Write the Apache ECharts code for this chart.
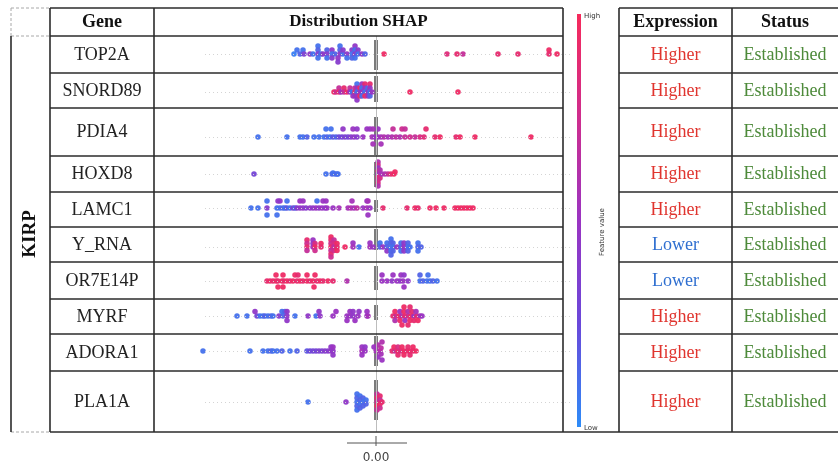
<!DOCTYPE html>
<html>
<head>
<meta charset="utf-8">
<script src="https://cdn.jsdelivr.net/npm/echarts@6/dist/echarts.min.js"></script>
<style>html,body{margin:0;padding:0;background:#fff}#c{width:838px;height:466px}</style>
</head>
<body>
<div id="c"></div>
<script>
// ---------------- DATA ----------------
const genes = ['TOP2A','SNORD89','PDIA4','HOXD8','LAMC1','Y_RNA','OR7E14P','MYRF','ADORA1','PLA1A'];
const expression = ['Higher','Higher','Higher','Higher','Higher','Lower','Lower','Higher','Higher','Higher'];
const status = ['Established','Established','Established','Established','Established','Established','Established','Established','Established','Established'];
const cancerType = 'KIRP';
const xTickValues = [0];
// beeswarm row centre for each gene (y-axis units)
const rowCenters = [18, 56, 101, 138, 172, 211, 245, 280, 315, 366];
// thick grey band at SHAP = 0 for each gene: [top, bottom] (y-axis units)
const zeroBands = [[4,34],[40,66],[81,119],[126,151],[164,176],[193,214],[230,254],[269,284],[300,330],[344,384]];
// points: [SHAP value, vertical swarm offset, feature value 0..1]
const TOP2A = [
[-0.82,0,0.05],[-0.79,-4,0.1],[-0.76,0,0.15],[-0.73,-4,0.1],[-0.72,0,0.35],
[-0.66,0,0.45],[-0.63,0,0.1],[-0.58,-8,0.1],[-0.58,-4,0.15],[-0.58,0,0.4],[-0.58,4,0.1],
[-0.55,0,0.1],[-0.53,0,0.45],[-0.49,-4,0.15],[-0.49,0,0.4],[-0.49,4,0.1],
[-0.44,-4,0.45],[-0.44,0,0.1],[-0.44,4,0.4],[-0.41,0,0.15],[-0.38,4,0.45],[-0.38,8,0.4],
[-0.36,-8,0.1],[-0.36,-4,0.15],[-0.36,0,0.45],[-0.33,0,0.1],[-0.33,-4,0.4],
[-0.29,0,0.45],[-0.29,4,0.1],[-0.24,-4,0.4],[-0.24,0,0.1],[-0.24,4,0.15],
[-0.21,-8,0.45],[-0.21,-4,0.1],[-0.21,0,0.4],[-0.21,4,0.1],[-0.18,-4,0.4],[-0.18,0,0.1],
[-0.14,0,0.45],[-0.11,0,0.15],
[0.08,0,0.95],[0.71,0,0.85],[0.81,0,0.9],[0.87,0,0.7],[1.22,0,0.9],[1.42,0,0.9],[1.73,-4,0.95],[1.73,0,0.9],[1.81,0,0.95]
];
const SNORD89 = [
[-0.42,0,0.95],[-0.40,0,0.75],[-0.37,-4,0.7],[-0.37,0,0.95],[-0.35,0,0.5],[-0.32,-4,0.9],[-0.32,0,0.7],
[-0.29,0,0.95],[-0.26,-4,0.7],[-0.26,0,0.5],[-0.24,0,0.1],[-0.23,4,0.5],[-0.21,-4,0.7],[-0.21,0,0.95],
[-0.21,4,0.5],[-0.19,-8,0.1],[-0.19,-4,0.5],[-0.19,0,0.1],[-0.19,4,0.5],[-0.19,8,0.45],[-0.16,-4,0.95],
[-0.16,0,0.5],[-0.16,4,0.95],[-0.14,-8,0.5],[-0.14,-4,0.1],[-0.14,0,0.5],[-0.14,4,0.1],[-0.11,-8,0.9],
[-0.11,-4,0.5],[-0.11,0,0.1],[-0.11,4,0.95],[-0.08,-4,0.1],[-0.08,0,0.5],[-0.08,4,0.5],[-0.06,-8,0.9],
[-0.06,-4,0.5],[-0.06,0,0.1],[-0.06,4,0.15],[-0.04,0,0.5],
[0.34,0,0.95],[0.82,0,0.95]
];
const PDIA4 = [
[-1.18,0,0.1],[-0.89,0,0.1],[-0.76,0,0.1],[-0.73,0,0.1],[-0.69,0,0.15],[-0.62,0,0.1],[-0.57,0,0.1],
[-0.52,0,0.1],[-0.49,0,0.15],[-0.46,0,0.1],[-0.43,0,0.2],[-0.40,0,0.15],[-0.37,0,0.25],[-0.34,0,0.3],
[-0.31,0,0.35],[-0.28,0,0.3],[-0.25,0,0.4],[-0.22,0,0.45],[-0.19,0,0.4],[-0.13,0,0.5],[-0.04,0,0.55],
[-0.01,0,0.5],[0.02,0,0.5],[0.05,0,0.55],[0.08,0,0.6],[0.12,0,0.55],[0.16,0,0.6],[0.20,0,0.65],
[0.24,0,0.6],[0.29,0,0.7],[0.34,0,0.75],[0.39,0,0.7],[0.44,0,0.8],[0.48,0,0.85],[0.59,0,0.9],
[0.64,0,0.95],[0.80,0,0.9],[0.84,0,0.95],[0.99,0,0.95],[1.55,0,0.95],
[-0.50,-8,0.1],[-0.45,-8,0.1],[-0.33,-8,0.45],[-0.23,-8,0.5],[-0.19,-8,0.45],[-0.09,-8,0.5],
[-0.06,-8,0.5],[-0.03,-8,0.55],[0.02,-8,0.5],[0.17,-8,0.7],[0.26,-8,0.75],[0.29,-8,0.7],[0.50,-8,0.9],
[-0.03,7,0.55],[0.05,7,0.55]
];
const HOXD8 = [
[-1.22,0,0.3],[-0.50,0,0.1],[-0.44,0,0.15],[-0.43,-1,0.1],[-0.41,0,0.1],[-0.39,0,0.15],[-0.38,0,0.1],
[0.02,-12,0.6],[0.02,-9,0.75],[0.02,-6,0.5],[0.02,-3,0.8],[0.02,0,0.55],[0.02,3,0.85],[0.02,6,0.7],
[0.02,9,0.8],[0.02,12,0.6],[0.04,-4,0.6],[0.04,4,0.8],
[0.06,0,0.55],[0.09,0,0.6],[0.12,0,0.7],[0.15,0,0.9],[0.18,0,0.95],[0.19,-2,0.95]
];
const LAMC1 = [
[-1.25,0,0.1],[-1.18,0,0.1],[-1.09,0,0.4],[-0.99,0,0.1],[-0.96,0,0.1],[-0.93,0,0.15],[-0.91,0,0.1],
[-0.89,0,0.2],[-0.86,0,0.1],[-0.83,0,0.35],[-0.81,0,0.15],[-0.79,0,0.4],[-0.76,0,0.45],[-0.73,0,0.45],
[-0.70,0,0.4],[-0.66,0,0.45],[-0.63,0,0.45],[-0.60,0,0.5],[-0.57,0,0.45],[-0.54,0,0.5],[-0.51,0,0.45],
[-0.49,0,0.5],[-0.43,0,0.5],[-0.37,0,0.55],[-0.28,0,0.55],[-0.25,0,0.6],[-0.22,0,0.55],[-0.19,0,0.65],
[-0.13,0,0.5],[-0.09,0,0.55],[-0.06,0,0.5],[0.07,0,0.9],[0.31,0,0.9],[0.39,0,0.95],[0.42,0,0.9],
[0.54,0,0.95],[0.60,0,0.95],[0.68,0,0.95],[0.79,0,0.95],[0.82,0,0.95],[0.85,0,0.95],[0.88,0,0.95],
[0.91,0,0.95],[0.94,0,0.95],[0.97,0,0.95],
[-1.09,-7,0.1],[-0.98,-7,0.45],[-0.96,-7,0.45],[-0.89,-7,0.1],[-0.76,-7,0.5],[-0.73,-7,0.5],
[-0.59,-7,0.1],[-0.53,-7,0.5],[-0.50,-7,0.5],[-0.24,-7,0.55],[-0.09,-7,0.5],[-0.08,-7,0.55],
[-1.09,7,0.1],[-0.99,7,0.1],[-0.08,7,0.5]
];
const Y_RNA = [
[-0.69,-7,0.9],[-0.69,-3.5,0.75],[-0.69,0,0.9],[-0.69,3.5,0.7],
[-0.63,-7,0.5],[-0.63,-3.5,0.45],[-0.63,0,0.5],
[-0.61,-3.5,0.8],[-0.61,0,0.95],[-0.61,3.5,0.75],
[-0.55,-3.5,0.95],[-0.55,0,0.9],
[-0.45,-10,0.95],[-0.45,-7,0.9],[-0.45,-3.5,0.75],[-0.45,0,0.95],[-0.45,3.5,0.7],[-0.45,7,0.9],[-0.45,10,0.75],
[-0.42,-7,0.7],[-0.42,-3.5,0.8],[-0.42,0,0.65],[-0.42,3.5,0.75],
[-0.39,-3.5,0.95],[-0.39,0,0.9],[-0.39,3.5,0.95],
[-0.31,0,0.95],[-0.23,-4,0.5],[-0.23,0,0.55],[-0.17,0,0.1],[-0.06,-4,0.5],[-0.06,0,0.55],[-0.03,0,0.5],
[0.04,-4,0.1],[0.04,0,0.15],[0.07,0,0.5],
[0.11,-4,0.1],[0.11,0,0.15],[0.11,4,0.45],
[0.15,-8,0.1],[0.15,-4,0.15],[0.15,0,0.1],[0.15,4,0.1],[0.15,8,0.15],
[0.17,-4,0.15],[0.17,0,0.1],[0.17,4,0.15],[0.21,0,0.5],
[0.25,-4,0.1],[0.25,0,0.15],[0.25,4,0.1],
[0.28,-4,0.45],[0.28,0,0.5],[0.28,4,0.45],
[0.32,-4,0.15],[0.32,0,0.1],[0.32,4,0.15],[0.34,0,0.1],
[0.42,-4,0.1],[0.42,0,0.15],[0.42,4,0.1],[0.45,0,0.15]
];
const OR7E14P = [
[-1.09,0,0.9],[-1.06,0,0.95],[-1.03,0,0.9],[-1.00,0,0.95],[-0.98,0,0.9],[-0.94,0,0.95],[-0.92,0,0.9],
[-0.89,0,0.95],[-0.86,0,0.9],[-0.83,0,0.95],[-0.79,0,0.9],[-0.76,0,0.95],[-0.73,0,0.9],[-0.69,0,0.95],
[-0.66,0,0.9],[-0.63,0,0.95],[-0.59,0,0.9],[-0.56,0,0.95],[-0.53,0,0.9],[-0.48,0,0.95],[-0.43,0,0.9],
[-0.29,0,0.6],[0.06,0,0.5],[0.11,0,0.5],[0.16,0,0.45],[0.21,0,0.5],[0.24,0,0.45],[0.27,0,0.5],
[0.32,0,0.45],[0.44,0,0.1],[0.47,0,0.15],[0.51,0,0.1],[0.54,0,0.1],[0.57,0,0.15],[0.61,0,0.1],
[-1.00,-6,0.95],[-0.93,-6,0.95],[-0.81,-6,0.95],[-0.78,-6,0.9],[-0.69,-6,0.95],[-0.61,-6,0.95],
[0.06,-6,0.5],[0.17,-6,0.5],[0.25,-6,0.5],[0.28,-6,0.45],[0.44,-6,0.15],[0.52,-6,0.1],
[-0.98,6,0.95],[-0.93,6,0.95],[-0.62,6,0.95],[0.28,6,0.5]
];
const MYRF = [
[-1.39,0,0.1],[-1.29,0,0.1],[-1.19,0,0.3],[-1.16,0,0.1],[-1.13,0,0.1],[-1.11,0,0.15],[-1.08,0,0.1],
[-1.05,0,0.15],[-1.03,0,0.1],[-0.97,0,0.4],[-0.93,0,0.15],[-0.89,0,0.45],[-0.81,0,0.1],[-0.68,0,0.45],
[-0.60,0,0.1],[-0.56,0,0.45],[-0.43,0,0.5],[-0.29,0,0.5],[-0.26,0,0.5],[-0.23,0,0.45],[-0.18,0,0.5],
[-0.09,0,0.5],[-0.08,0,0.55],
[-1.21,-4.5,0.45],[-0.94,-4.5,0.1],[-0.91,-4.5,0.15],[-0.89,-4.5,0.45],[-0.57,-4.5,0.45],[-0.40,-4.5,0.5],
[-0.26,-4.5,0.5],[-0.23,-4.5,0.45],[-0.17,-4.5,0.45],[-0.09,-4.5,0.5],
[-0.89,4.5,0.45],[-0.29,4.5,0.5],[-0.21,4.5,0.5],
[0.17,0,0.9],[0.20,0,0.7],[0.23,0,0.95],[0.26,0,0.6],[0.29,0,0.9],[0.32,0,0.75],[0.35,0,0.95],
[0.38,0,0.5],[0.41,0,0.9],[0.44,0,0.55],[0.46,0,0.5],
[0.19,-4.5,0.95],[0.24,-4.5,0.5],[0.28,-4.5,0.95],[0.32,-4.5,0.6],[0.36,-4.5,0.9],[0.40,-4.5,0.55],
[0.28,-9,0.95],[0.34,-9,0.9],
[0.19,4.5,0.6],[0.24,4.5,0.95],[0.29,4.5,0.5],[0.34,4.5,0.95],[0.38,4.5,0.9],[0.42,4.5,0.95],
[0.26,9,0.95],[0.32,9,0.9]
];
const ADORA1 = [
[-1.73,0,0.1],[-1.26,0,0.1],[-1.13,0,0.1],[-1.08,0,0.1],[-1.05,0,0.15],[-1.03,0,0.1],[-0.99,0,0.1],
[-0.94,0,0.15],[-0.86,0,0.1],[-0.79,0,0.15],[-0.69,0,0.2],[-0.66,0,0.25],[-0.63,0,0.3],[-0.60,0,0.3],
[-0.57,0,0.35],[-0.54,0,0.35],[-0.51,0,0.4],[-0.48,0,0.4],[-0.45,0,0.45],[-0.43,0,0.45],
[-0.45,-4,0.45],[-0.43,-4,0.5],[-0.43,4,0.45],
[-0.14,-4,0.5],[-0.14,0,0.55],[-0.14,4,0.5],[-0.11,-4,0.45],[-0.11,0,0.5],
[-0.02,-4,0.5],[0.00,0,0.55],[0.02,-6,0.6],[0.02,6,0.5],[0.04,0,0.6],[0.05,-3,0.65],[0.05,3,0.55],
[0.06,-9,0.6],[0.06,9,0.5],
[0.16,0,0.9],[0.19,0,0.7],[0.22,0,0.95],[0.25,0,0.8],[0.28,0,0.95],[0.31,0,0.9],[0.34,0,0.95],
[0.37,0,0.9],[0.40,0,0.95],
[0.18,-4,0.95],[0.22,-4,0.8],[0.26,-4,0.95],[0.32,-4,0.9],[0.37,-4,0.95],
[0.22,4,0.9],[0.28,4,0.95],[0.34,4,0.9]
];
const PLA1A = [
[-0.68,0,0.1],[-0.30,0,0.45],
[-0.19,-8,0.1],[-0.19,-4,0.15],[-0.19,0,0.1],[-0.19,4,0.15],[-0.19,8,0.1],
[-0.16,-6,0.1],[-0.16,-2,0.15],[-0.16,2,0.1],[-0.16,6,0.15],
[-0.13,-4,0.15],[-0.13,0,0.1],[-0.13,4,0.15],[-0.10,-2,0.1],[-0.10,2,0.15],
[0.01,-8,0.7],[0.01,-4,0.9],[0.01,0,0.75],[0.01,4,0.95],[0.01,8,0.7],
[0.04,-6,0.9],[0.04,-2,0.7],[0.04,2,0.95],[0.04,6,0.75],[0.06,0,0.9]
];
const pointSets = [TOP2A, SNORD89, PDIA4, HOXD8, LAMC1, Y_RNA, OR7E14P, MYRF, ADORA1, PLA1A];

// ---------------- LAYOUT ----------------
const FONT = '"Liberation Serif","Times New Roman",serif';
const tableTop = 8;
const rowLines = [36, 73, 108, 156, 192, 227, 262, 299, 334, 371, 432];
const colX = {kirpL: 11, kirpR: 50, geneR: 154, shapR: 563, cbarR: 619, exprR: 732, right: 840};
const lineColor = '#2b2b2b';
const exprColors = {Higher: '#e0352f', Lower: '#2f6fd0'};
const statusColor = '#4d8a3a';
const cmap = ['#2d8cf8', '#6a48da', '#9a34c2', '#cf2d8e', '#f62a5b'];

const scatterData = [];
pointSets.forEach((pts, i) => pts.forEach(p => scatterData.push([p[0], rowCenters[i] + p[1], p[2]])));

function L(x1, y1, x2, y2, dashed, extra) {
  return {type: 'line', silent: true, z: 10,
    shape: {x1, y1, x2, y2},
    style: Object.assign(dashed ? {stroke: '#a8a8a8', lineWidth: 1, lineDash: [3, 2]} : {stroke: lineColor, lineWidth: 1.6}, extra)};
}
function T(text, x, y, opts) {
  return Object.assign({type: 'text', silent: true, z: 11, x, y,
    style: Object.assign({text, x: 0, y: 0, textAlign: 'center', textVerticalAlign: 'middle',
      font: '18px ' + FONT, fill: '#222'}, opts && opts.style)}, opts && opts.el);
}

const graphics = [];
// dashed corner cell
graphics.push(L(colX.kirpL, tableTop, colX.kirpR, tableTop, true));
graphics.push(L(colX.kirpL, tableTop, colX.kirpL, rowLines[0], true));
graphics.push(L(colX.kirpL, rowLines[0], colX.kirpR, rowLines[0], true));
graphics.push(L(colX.kirpL, rowLines[rowLines.length - 1], colX.kirpR, rowLines[rowLines.length - 1], true));
// vertical lines
graphics.push(L(colX.kirpL, rowLines[0], colX.kirpL, rowLines[rowLines.length - 1]));
[colX.kirpR, colX.geneR, colX.shapR, colX.cbarR, colX.exprR].forEach(x =>
  graphics.push(L(x, tableTop, x, rowLines[rowLines.length - 1])));
// horizontal lines
[tableTop].concat(rowLines.slice(0, -1)).forEach(y => {
  graphics.push(L(colX.kirpR, y, colX.shapR, y));
  graphics.push(L(colX.cbarR, y, colX.right, y));
});
graphics.push(L(colX.kirpR, rowLines[rowLines.length - 1], colX.right, rowLines[rowLines.length - 1]));
// headers
const hy = (tableTop + rowLines[0]) / 2;
const bold = {style: {font: 'bold 18px ' + FONT, fill: '#111'}};
graphics.push(T('Gene', (colX.kirpR + colX.geneR) / 2, hy, bold));
graphics.push(T('Distribution SHAP', (colX.geneR + colX.shapR) / 2, hy, {style: {font: 'bold 17px ' + FONT, fill: '#111'}}));
graphics.push(T('Expression', (colX.cbarR + colX.exprR) / 2, hy, bold));
graphics.push(T('Status', 785, hy, bold));
graphics.push(T(cancerType, (colX.kirpL + colX.kirpR) / 2, (rowLines[0] + rowLines[rowLines.length - 1]) / 2,
  {style: {font: 'bold 19px ' + FONT, fill: '#111'}, el: {rotation: Math.PI / 2}}));
genes.forEach((g, i) => {
  const cy = (rowLines[i] + rowLines[i + 1]) / 2 + 0.5;
  graphics.push(T(g, (colX.kirpR + colX.geneR) / 2, cy));
  graphics.push(T(expression[i], (colX.cbarR + colX.exprR) / 2, cy, {style: {fill: exprColors[expression[i]]}}));
  graphics.push(T(status[i], 785, cy, {style: {fill: statusColor}}));
});
// colour bar (same colour map as the visualMap that colours the points)
const cbar = {x: 577, y: 14, w: 4, h: 413};
graphics.push({type: 'rect', silent: true, z: 5, shape: {x: cbar.x, y: cbar.y, width: cbar.w, height: cbar.h},
  style: {fill: new echarts.graphic.LinearGradient(0, 1, 0, 0,
    cmap.map((c, i) => ({offset: i / (cmap.length - 1), color: c})))}});
const small = {style: {font: '7px "DejaVu Sans",sans-serif', fill: '#333', textAlign: 'left'}};
graphics.push(T('High', 584, 16, small));
graphics.push(T('Low', 584, 428, small));
graphics.push(T('Feature value', 602, 232, {style: {font: '7px "DejaVu Sans",sans-serif', fill: '#333'}, el: {rotation: Math.PI / 2}}));

const chart = echarts.init(document.getElementById('c'), null, {renderer: 'canvas'});
const option = {
  animation: false,
  backgroundColor: '#fff',
  grid: {left: 205, right: 268, top: rowLines[0], bottom: 466 - rowLines[rowLines.length - 1]},
  xAxis: {
    type: 'value', min: -1.71, max: 1.94, offset: 4,
    axisLine: {show: false}, splitLine: {show: false},
    axisTick: {show: false},
    axisLabel: {customValues: xTickValues, formatter: v => v.toFixed(2), color: '#444', fontSize: 12,
      margin: 16, fontFamily: '"DejaVu Sans",sans-serif'}
  },
  yAxis: {type: 'value', min: 0, max: rowLines[rowLines.length - 1] - rowLines[0], inverse: true, show: false},
  visualMap: {
    type: 'continuous', show: false, min: 0, max: 1, dimension: 2, seriesIndex: 2,
    inRange: {color: cmap}
  },
  series: [
    {
      type: 'scatter', data: [], silent: true, z: 1,
      markLine: {
        silent: true, symbol: 'none', label: {show: false}, animation: false,
        data: rowCenters.map(c => ({yAxis: c, lineStyle: {color: '#d4d4d4', type: [1, 3], width: 1}}))
          .concat([{xAxis: 0, lineStyle: {color: '#bdbdbd', type: 'solid', width: 1}}])
      }
    },
    {
      type: 'custom', silent: true, z: 2,
      data: zeroBands.map(b => [0, b[0], b[1]]),
      renderItem: (params, api) => {
        const p1 = api.coord([api.value(0), api.value(1)]);
        const p2 = api.coord([api.value(0), api.value(2)]);
        return {type: 'rect', shape: {x: p1[0] - 2, y: p1[1], width: 4, height: p2[1] - p1[1]},
          style: {fill: '#7b7b7b'}};
      }
    },
    {
      type: 'scatter', data: scatterData, symbolSize: 5.5, z: 3, clip: false, silent: true,
      itemStyle: {opacity: 0.95}
    }
  ],
  graphic: graphics
};
chart.setOption(option);
// short bottom axis segment and the tick at 0
const axisSpan = [-0.29, 0.31];
const xa = chart.convertToPixel({xAxisIndex: 0}, axisSpan[0]);
const xb = chart.convertToPixel({xAxisIndex: 0}, axisSpan[1]);
const x0 = chart.convertToPixel({xAxisIndex: 0}, xTickValues[0]);
chart.setOption({graphic: graphics.concat([
  {type: 'line', silent: true, shape: {x1: xa, y1: 443, x2: xb, y2: 443}, style: {stroke: '#555', lineWidth: 1}},
  {type: 'line', silent: true, shape: {x1: x0, y1: 436, x2: x0, y2: 446}, style: {stroke: '#555', lineWidth: 1}}
])});
</script>
</body>
</html>
